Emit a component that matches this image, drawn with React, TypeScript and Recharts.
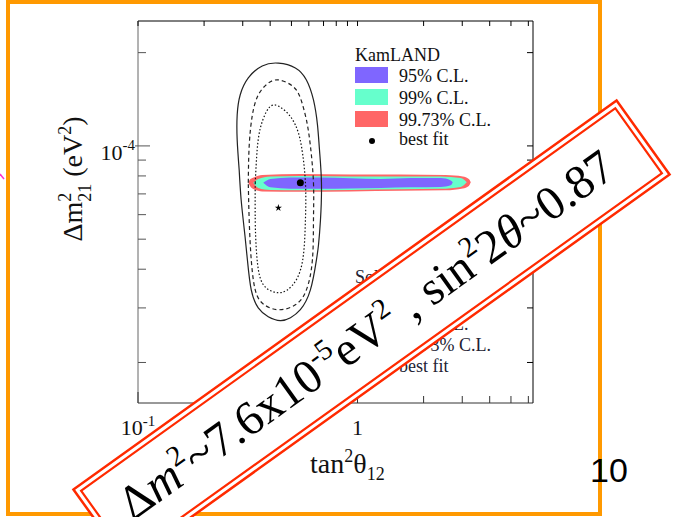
import React from "react";
import { ComposedChart, Line, Area, Scatter, XAxis, YAxis, Symbols } from "recharts";

// tan^2(theta12) / Delta m^2_21 plane, log-log
const X_DOMAIN = [0.1, 6.3];
const Y_DOMAIN = [1.48e-5, 2.53e-4];
const X_TICKS = [0.1, 0.2, 0.3, 0.4, 0.5, 0.6, 0.7, 0.8, 0.9, 1, 2, 3, 4, 5, 6];
const Y_TICKS = [2e-5, 3e-5, 4e-5, 5e-5, 6e-5, 7e-5, 8e-5, 9e-5, 1e-4, 2e-4];

// solar contours (closed loops, start/end on the left flank)
const solarOuter = [
  { x: 0.289, y: 0.837e-4 }, { x: 0.283, y: 1.046e-4 }, { x: 0.283, y: 1.259e-4 },
  { x: 0.292, y: 1.46e-4 }, { x: 0.318, y: 1.657e-4 }, { x: 0.368, y: 1.812e-4 },
  { x: 0.436, y: 1.85e-4 }, { x: 0.521, y: 1.785e-4 }, { x: 0.585, y: 1.633e-4 },
  { x: 0.63, y: 1.407e-4 }, { x: 0.657, y: 1.169e-4 }, { x: 0.671, y: 0.971e-4 },
  { x: 0.685, y: 0.76e-4 }, { x: 0.678, y: 0.577e-4 }, { x: 0.664, y: 0.479e-4 },
  { x: 0.65, y: 0.429e-4 }, { x: 0.61, y: 0.343e-4 }, { x: 0.549, y: 0.296e-4 },
  { x: 0.495, y: 0.279e-4 }, { x: 0.445, y: 0.273e-4 }, { x: 0.392, y: 0.281e-4 },
  { x: 0.353, y: 0.3e-4 }, { x: 0.328, y: 0.343e-4 }, { x: 0.315, y: 0.429e-4 },
  { x: 0.305, y: 0.536e-4 }, { x: 0.295, y: 0.67e-4 }, { x: 0.289, y: 0.837e-4 },
];
const solarDashed = [
  { x: 0.318, y: 0.76e-4 }, { x: 0.321, y: 1.0e-4 }, { x: 0.332, y: 1.259e-4 },
  { x: 0.353, y: 1.46e-4 }, { x: 0.388, y: 1.585e-4 }, { x: 0.436, y: 1.633e-4 },
  { x: 0.505, y: 1.561e-4 }, { x: 0.549, y: 1.428e-4 }, { x: 0.585, y: 1.213e-4 },
  { x: 0.61, y: 1.0e-4 }, { x: 0.63, y: 0.76e-4 }, { x: 0.63, y: 0.577e-4 },
  { x: 0.623, y: 0.429e-4 }, { x: 0.585, y: 0.343e-4 }, { x: 0.521, y: 0.307e-4 },
  { x: 0.436, y: 0.296e-4 }, { x: 0.372, y: 0.309e-4 }, { x: 0.342, y: 0.343e-4 },
  { x: 0.328, y: 0.429e-4 }, { x: 0.321, y: 0.577e-4 }, { x: 0.318, y: 0.76e-4 },
];
const solarDotted = [
  { x: 0.342, y: 0.76e-4 }, { x: 0.349, y: 0.971e-4 }, { x: 0.361, y: 1.143e-4 },
  { x: 0.384, y: 1.287e-4 }, { x: 0.418, y: 1.356e-4 }, { x: 0.474, y: 1.287e-4 },
  { x: 0.521, y: 1.169e-4 }, { x: 0.555, y: 1.0e-4 }, { x: 0.579, y: 0.76e-4 },
  { x: 0.579, y: 0.577e-4 }, { x: 0.567, y: 0.445e-4 }, { x: 0.532, y: 0.375e-4 },
  { x: 0.479, y: 0.343e-4 }, { x: 0.431, y: 0.336e-4 }, { x: 0.384, y: 0.348e-4 },
  { x: 0.357, y: 0.384e-4 }, { x: 0.346, y: 0.462e-4 }, { x: 0.342, y: 0.577e-4 },
  { x: 0.342, y: 0.76e-4 },
];
const solarBest = [{ x: 0.436, y: 0.631e-4 }];

// KamLAND allowed bands: [lower, upper]
const kam9973 = [
  { x: 0.318, r: [0.76e-4, 0.76e-4] }, { x: 0.325, r: [0.74e-4, 0.782e-4] },
  { x: 0.332, r: [0.729e-4, 0.788e-4] }, { x: 0.368, r: [0.713e-4, 0.806e-4] },
  { x: 0.549, r: [0.711e-4, 0.812e-4] }, { x: 0.929, r: [0.713e-4, 0.809e-4] },
  { x: 1.572, r: [0.716e-4, 0.809e-4] }, { x: 2.523, r: [0.719e-4, 0.806e-4] },
  { x: 3.017, r: [0.729e-4, 0.797e-4] }, { x: 3.213, r: [0.743e-4, 0.782e-4] },
  { x: 3.281, r: [0.763e-4, 0.763e-4] },
];
const kam99 = [
  { x: 0.335, r: [0.76e-4, 0.76e-4] }, { x: 0.353, r: [0.732e-4, 0.782e-4] },
  { x: 0.401, r: [0.721e-4, 0.797e-4] }, { x: 0.549, r: [0.719e-4, 0.8e-4] },
  { x: 0.929, r: [0.721e-4, 0.797e-4] }, { x: 1.572, r: [0.724e-4, 0.797e-4] },
  { x: 2.393, r: [0.727e-4, 0.797e-4] }, { x: 2.954, r: [0.737e-4, 0.788e-4] },
  { x: 3.146, r: [0.763e-4, 0.763e-4] },
];
const kam95 = [
  { x: 0.372, r: [0.76e-4, 0.76e-4] }, { x: 0.401, r: [0.735e-4, 0.782e-4] },
  { x: 0.495, r: [0.727e-4, 0.791e-4] }, { x: 0.678, r: [0.727e-4, 0.791e-4] },
  { x: 0.929, r: [0.729e-4, 0.786e-4] }, { x: 1.274, r: [0.732e-4, 0.782e-4] },
  { x: 1.746, r: [0.735e-4, 0.788e-4] }, { x: 2.393, r: [0.737e-4, 0.788e-4] },
  { x: 2.659, r: [0.746e-4, 0.774e-4] }, { x: 2.716, r: [0.763e-4, 0.763e-4] },
];
const kamBest = [{ x: 0.549, y: 0.76e-4 }];

const KAM_LEGEND = ["95% C.L.", "99% C.L.", "99.73% C.L."];
const SOLAR_LEGEND = ["95% C.L.", "99% C.L.", "99.73% C.L."];

const C95 = "#7f66ff";
const C99 = "#66ffcc";
const C9973 = "#ff6666";
const BOX_RED = "#ff2a00";
const ORANGE = "#ff9900";
const SERIF = "'Liberation Serif', 'Times New Roman', serif";
const TXT = "#111";

const W = 675;
const H = 517;

function BottomTick(p: any) {
  const v = p.payload.value;
  const major = v === 0.1 || v === 1;
  return (
    <g>
      <line x1={p.x} x2={p.x} y1={p.y} y2={p.y - (major ? 11 : 7)} stroke="#333" />
      {v === 0.1 && (
        <text x={p.x} y={p.y + 32} textAnchor="middle" fontFamily={SERIF} fontSize={22} fill={TXT}>
          10<tspan dy={-9} fontSize={15}>-1</tspan>
        </text>
      )}
      {v === 1 && (
        <text x={p.x} y={p.y + 32} textAnchor="middle" fontFamily={SERIF} fontSize={22} fill={TXT}>
          1
        </text>
      )}
    </g>
  );
}

function TopTick(p: any) {
  return <line x1={p.x} x2={p.x} y1={p.y} y2={p.y + 5} stroke="#000" />;
}

function LeftTick(p: any) {
  const v = p.payload.value;
  const major = v === 1e-4;
  return (
    <g>
      <line x1={major ? p.x - 3 : p.x} x2={p.x + (major ? 12 : 8)} y1={p.y} y2={p.y} stroke="#555" />
      {major && (
        <text x={p.x - 3} y={p.y + 14} textAnchor="end" fontFamily={SERIF} fontSize={22} fill={TXT}>
          10<tspan dy={-10} fontSize={15}>-4</tspan>
        </text>
      )}
    </g>
  );
}

function RightTick(p: any) {
  return <line x1={p.x} x2={p.x - 6} y1={p.y} y2={p.y} stroke="#000" />;
}

export default function App() {
  return (
    <div style={{ position: "absolute", left: 0, top: 0, width: W, height: H, background: "#fff" }}>
      <ComposedChart width={W} height={H} margin={{ top: 16, right: 137, bottom: 84, left: 108 }}>
        <XAxis
          dataKey="x"
          type="number"
          scale="log"
          domain={X_DOMAIN}
          allowDataOverflow
          ticks={X_TICKS}
          interval={0}
          height={30}
          tickSize={0}
          tickMargin={0}
          tick={(p: any) => <BottomTick {...p} />}
          axisLine={{ stroke: "#333" }}
        />
        <XAxis
          xAxisId="t"
          orientation="top"
          dataKey="x"
          type="number"
          scale="log"
          domain={X_DOMAIN}
          allowDataOverflow
          ticks={X_TICKS}
          interval={0}
          height={5}
          tickSize={0}
          tickMargin={0}
          tick={(p: any) => <TopTick {...p} />}
          axisLine={{ stroke: "#000" }}
        />
        <YAxis
          type="number"
          scale="log"
          domain={Y_DOMAIN}
          allowDataOverflow
          ticks={Y_TICKS}
          interval={0}
          width={30}
          tickSize={0}
          tickMargin={0}
          tick={(p: any) => <LeftTick {...p} />}
          axisLine={{ stroke: "#666" }}
        />
        <YAxis
          yAxisId="r"
          orientation="right"
          type="number"
          scale="log"
          domain={Y_DOMAIN}
          allowDataOverflow
          ticks={Y_TICKS}
          interval={0}
          width={5}
          tickSize={0}
          tickMargin={0}
          tick={(p: any) => <RightTick {...p} />}
          axisLine={{ stroke: "#000" }}
        />

        <Area data={kam9973} dataKey="r" type="monotone" stroke="none" fill={C9973} fillOpacity={1} isAnimationActive={false} />
        <Area data={kam99} dataKey="r" type="monotone" stroke="none" fill={C99} fillOpacity={1} isAnimationActive={false} />
        <Area data={kam95} dataKey="r" type="monotone" stroke="none" fill={C95} fillOpacity={1} isAnimationActive={false} />

        <Line data={solarOuter} dataKey="y" type="natural" stroke="#222" strokeWidth={1.2} dot={false} isAnimationActive={false} />
        <Line data={solarDashed} dataKey="y" type="natural" stroke="#222" strokeWidth={1.2} strokeDasharray="4 3" dot={false} isAnimationActive={false} />
        <Line data={solarDotted} dataKey="y" type="natural" stroke="#111" strokeWidth={1.2} strokeDasharray="1.5 2" dot={false} isAnimationActive={false} />

        <Scatter
          data={solarBest}
          dataKey="y"
          fill="#000"
          isAnimationActive={false}
          shape={(p: any) => <Symbols cx={p.cx} cy={p.cy} type="star" size={16} fill="#000" />}
        />
        <Scatter
          data={kamBest}
          dataKey="y"
          fill="#000"
          isAnimationActive={false}
          shape={(p: any) => <circle cx={p.cx} cy={p.cy} r={3.5} fill="#000" />}
        />
      </ComposedChart>

      <svg width={W} height={H} style={{ position: "absolute", left: 0, top: 0, pointerEvents: "none" }}>
        {/* slide frame */}
        <rect x={8} y={2} width={592} height={512} fill="none" stroke={ORANGE} strokeWidth={4} />
        <line x1={0} y1={174} x2={4} y2={179} stroke="#ff33cc" strokeWidth={1.5} />

        {/* axis titles */}
        <text transform="translate(82 179) rotate(-90)" textAnchor="middle" fontFamily={SERIF} fontSize={28} fill={TXT}>
          Δm<tspan dy={-11} fontSize={18}>2</tspan>
          <tspan dx={-9} dy={20} fontSize={18}>21</tspan>
          <tspan dy={-9}> (eV</tspan>
          <tspan dy={-11} fontSize={18}>2</tspan>
          <tspan dy={11}>)</tspan>
        </text>
        <text x={310} y={473} fontFamily={SERIF} fontSize={28} fill={TXT}>
          tan<tspan dy={-11} fontSize={18}>2</tspan>
          <tspan dy={11}>θ</tspan>
          <tspan dy={7} fontSize={18}>12</tspan>
        </text>

        {/* KamLAND legend */}
        <text x={355} y={61} fontFamily={SERIF} fontSize={18} fill={TXT}>KamLAND</text>
        {KAM_LEGEND.map((t, i) => (
          <g key={t}>
            <rect x={355} y={67 + i * 22} width={33} height={16} fill={[C95, C99, C9973][i]} />
            <text x={399} y={82 + i * 22} fontFamily={SERIF} fontSize={18} fill={TXT}>{t}</text>
          </g>
        ))}
        <circle cx={372} cy={141} r={3} fill="#000" />
        <text x={399} y={145} fontFamily={SERIF} fontSize={18} fill={TXT}>best fit</text>

        {/* solar legend (mostly hidden behind the box) */}
        <text x={355} y={283} fontFamily={SERIF} fontSize={18} fill="#223">Solar</text>
        {SOLAR_LEGEND.map((t, i) => (
          <g key={t}>
            <line x1={355} x2={388} y1={303 + i * 21} y2={303 + i * 21} stroke="#222" strokeDasharray={["", "4 3", "1 2"][i]} />
            <text x={399} y={309 + i * 21} fontFamily={SERIF} fontSize={18} fill="#223">{t}</text>
          </g>
        ))}
        <text x={399} y={372} fontFamily={SERIF} fontSize={18} fill="#223">best fit</text>

        {/* page number */}
        <text x={590} y={482} fontFamily="'Liberation Sans', Arial, sans-serif" fontSize={34} fill="#000">10</text>

        {/* rotated result box */}
        <g transform="translate(371.5 332) rotate(-35.6)">
          <rect x={-334} y={-45.5} width={668} height={91} fill="#fff" stroke={BOX_RED} strokeWidth={2.5} />
          <rect x={-328.5} y={-40} width={657} height={80} fill="none" stroke={BOX_RED} strokeWidth={2.2} />
          <text x={-6} y={15} textAnchor="middle" fontFamily={SERIF} fontSize={48} fill="#000">
            Δ<tspan fontStyle="italic">m</tspan>
            <tspan dy={-19} fontSize={29}>2</tspan>
            <tspan dy={19}>~7.6x10</tspan>
            <tspan dy={-19} fontSize={29}>-5</tspan>
            <tspan dy={19}>eV</tspan>
            <tspan dy={-19} fontSize={29}>2</tspan>
            <tspan dy={19}>{" , sin"}</tspan>
            <tspan dy={-19} fontSize={29}>2</tspan>
            <tspan dy={19}>2</tspan>
            <tspan fontStyle="italic">θ</tspan>
            <tspan>~0.87</tspan>
          </text>
        </g>
      </svg>
    </div>
  );
}
